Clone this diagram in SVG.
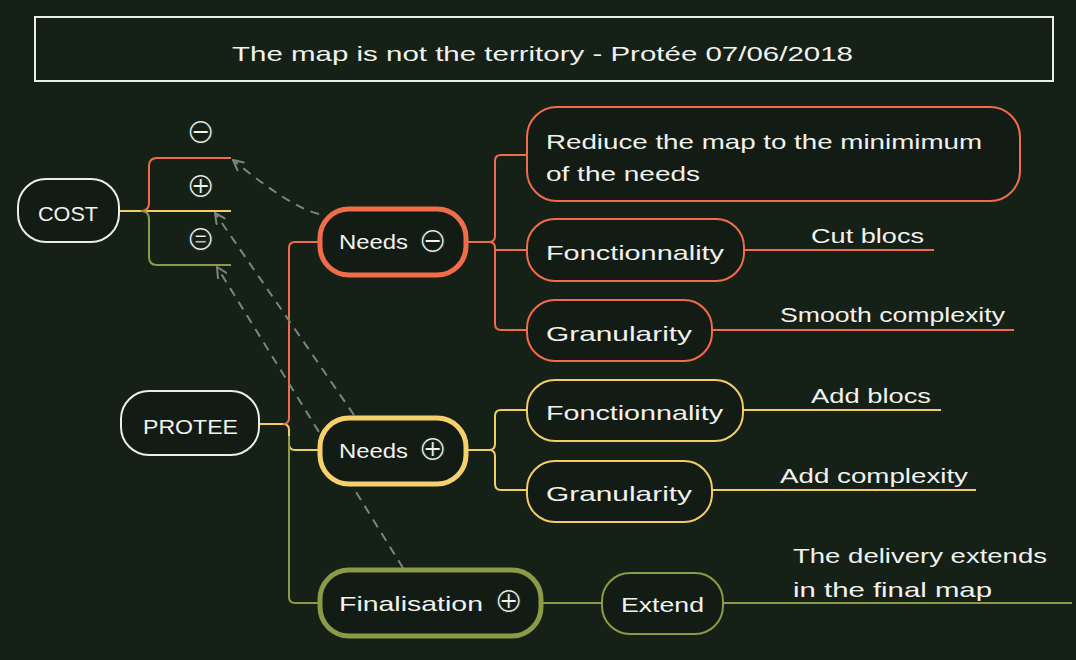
<svg xmlns="http://www.w3.org/2000/svg" width="1076" height="660" viewBox="0 0 1076 660">
<defs>
<marker id="arr" viewBox="0 0 12 12" refX="11" refY="6" markerWidth="12" markerHeight="12" markerUnits="userSpaceOnUse" orient="auto">
<path d="M1,1 L11,6 L1,11" fill="none" stroke="#7d837d" stroke-width="2" stroke-linecap="round" stroke-linejoin="round"/>
</marker>
<style>
.bg{fill:#152017}
.t{font-family:"Liberation Sans","DejaVu Sans",sans-serif;font-size:21px;fill:#f2f2ee}
.sym{font-family:"DejaVu Sans",sans-serif;font-size:35px;font-weight:200;fill:#f2f2ee;stroke:#141e16;stroke-width:1}
.node{fill:#131c14}
.w{stroke:#ecece8;stroke-width:2}
.r1{stroke:#f26c4a;stroke-width:2}
.r2{stroke:#f26c4a;stroke-width:5}
.y1{stroke:#f3cc65;stroke-width:2}
.y2{stroke:#f6d06a;stroke-width:5}
.g1{stroke:#8a9a45;stroke-width:2}
.g2{stroke:#8a9a45;stroke-width:5}
.c{fill:none;stroke-width:2}
.dash{fill:none;stroke:#7d837d;stroke-width:2;stroke-dasharray:9 7;marker-end:url(#arr)}
</style>
</defs>
<rect class="bg" x="0" y="0" width="1076" height="660"/>

<g id="title">
<rect x="35" y="17" width="1018" height="64" fill="none" stroke="#ecece8" stroke-width="2"/>
<text class="t" x="232" y="61" font-size="22" textLength="621" lengthAdjust="spacingAndGlyphs">The map is not the territory - Protée 07/06/2018</text>
</g>

<g id="connectors">
<path class="c y1" d="M119,211 H231"/>
<path class="c r1" d="M141,211 Q149,211 149,203 V166 Q149,158 157,158 H231"/>
<path class="c g1" d="M141,211 Q149,211 149,219 V257 Q149,265 157,265 H231"/>

<path class="c y1" d="M260,424 H283 Q289,424 289,430 V444 Q289,450 295,450 H319"/>
<path class="c r1" d="M283,424 Q289,424 289,418 V248 Q289,242 295,242 H319"/>
<path class="c g1" d="M289,436 V597 Q289,603 295,603 H319"/>

<path class="c r1" d="M467,242 H489 Q495,242 495,236 V161 Q495,155 501,155 H527"/>
<path class="c r1" d="M489,242 Q495,242 495,248 V324 Q495,330 501,330 H527"/>
<path class="c r1" d="M495,250 H527"/>
<path class="c r1" d="M744,250 H934"/>
<path class="c r1" d="M712,330 H1014"/>

<path class="c y1" d="M467,450 H489 Q495,450 495,444 V416 Q495,410 501,410 H527"/>
<path class="c y1" d="M489,450 Q495,450 495,456 V484 Q495,490 501,490 H527"/>
<path class="c y1" d="M743,410 H941"/>
<path class="c y1" d="M712,490 H976"/>

<path class="c g1" d="M543,603 H602"/>
<path class="c g1" d="M723,603 H1072"/>

<path class="dash" d="M319,214 Q290,207 233,160"/>
<path class="dash" d="M354,415 L215,213"/>
<path class="dash" d="M403,568 L217,267"/>
</g>

<g id="cost-labels">
<text class="sym" x="200" y="143" text-anchor="middle">⊖</text>
<text class="sym" x="200" y="197" text-anchor="middle">⊕</text>
<text class="sym" x="200" y="250" text-anchor="middle">⊜</text>
</g>

<g id="cost">
<rect class="node w" x="18" y="179" width="101" height="63" rx="28"/>
<text class="t" x="38" y="221" textLength="60" lengthAdjust="spacingAndGlyphs">COST</text>
</g>

<g id="protee">
<rect class="node w" x="121" y="391" width="138" height="64" rx="28"/>
<text class="t" x="143" y="434" textLength="95" lengthAdjust="spacingAndGlyphs">PROTEE</text>
</g>

<g id="needs-minus">
<rect class="node r2" x="320" y="209" width="146" height="66" rx="29"/>
<text class="t"><tspan x="339" y="249" textLength="69" lengthAdjust="spacingAndGlyphs">Needs</tspan><tspan class="sym" x="432" y="252" text-anchor="middle">⊖</tspan></text>
</g>

<g id="needs-plus">
<rect class="node y2" x="320" y="418" width="146" height="66" rx="29"/>
<text class="t"><tspan x="339" y="458" textLength="69" lengthAdjust="spacingAndGlyphs">Needs</tspan><tspan class="sym" x="432" y="460" text-anchor="middle">⊕</tspan></text>
</g>

<g id="finalisation">
<rect class="node g2" x="320" y="570" width="221" height="66" rx="29"/>
<text class="t"><tspan x="339" y="611" textLength="144" lengthAdjust="spacingAndGlyphs">Finalisation</tspan><tspan class="sym" x="508" y="612" text-anchor="middle">⊕</tspan></text>
</g>

<g id="reduce">
<rect class="node r1" x="527" y="107" width="493" height="94" rx="30"/>
<text class="t"><tspan x="546" y="149" textLength="436" lengthAdjust="spacingAndGlyphs">Rediuce the map to the minimimum</tspan><tspan x="546" y="181" textLength="154" lengthAdjust="spacingAndGlyphs">of the needs</tspan></text>
</g>

<g id="fonct-minus">
<rect class="node r1" x="527" y="219" width="217" height="62" rx="28"/>
<text class="t" x="546" y="260" textLength="178" lengthAdjust="spacingAndGlyphs">Fonctionnality</text>
</g>
<g id="cut-blocs">
<text class="t" x="811" y="243" textLength="113" lengthAdjust="spacingAndGlyphs">Cut blocs</text>
</g>

<g id="gran-minus">
<rect class="node r1" x="527" y="300" width="185" height="61" rx="28"/>
<text class="t" x="546" y="341" textLength="146" lengthAdjust="spacingAndGlyphs">Granularity</text>
</g>
<g id="smooth">
<text class="t" x="780" y="322" textLength="225" lengthAdjust="spacingAndGlyphs">Smooth complexity</text>
</g>

<g id="fonct-plus">
<rect class="node y1" x="527" y="380" width="216" height="61" rx="28"/>
<text class="t" x="546" y="420" textLength="177" lengthAdjust="spacingAndGlyphs">Fonctionnality</text>
</g>
<g id="add-blocs">
<text class="t" x="811" y="403" textLength="120" lengthAdjust="spacingAndGlyphs">Add blocs</text>
</g>

<g id="gran-plus">
<rect class="node y1" x="527" y="461" width="185" height="61" rx="28"/>
<text class="t" x="546" y="501" textLength="146" lengthAdjust="spacingAndGlyphs">Granularity</text>
</g>
<g id="add-complexity">
<text class="t" x="780" y="483" textLength="188" lengthAdjust="spacingAndGlyphs">Add complexity</text>
</g>

<g id="extend">
<rect class="node g1" x="602" y="573" width="121" height="61" rx="28"/>
<text class="t" x="621" y="612" textLength="83" lengthAdjust="spacingAndGlyphs">Extend</text>
</g>
<g id="delivery">
<text class="t"><tspan x="793" y="563" textLength="254" lengthAdjust="spacingAndGlyphs">The delivery extends</tspan><tspan x="793" y="597" textLength="199" lengthAdjust="spacingAndGlyphs">in the final map</tspan></text>
</g>
</svg>
